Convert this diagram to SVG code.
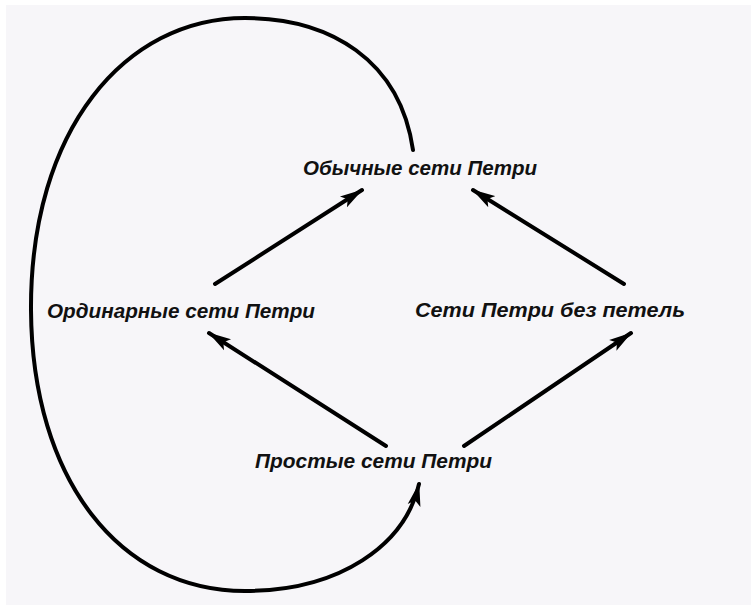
<svg xmlns="http://www.w3.org/2000/svg" width="751" height="608" viewBox="0 0 751 608">
<defs>
<style>
.lbl{font-family:"Liberation Sans","DejaVu Sans",sans-serif;font-style:italic;font-weight:bold;font-size:21px;fill:#111;}
.edge{fill:none;stroke:#000;stroke-width:4;stroke-linecap:round;}
</style>
<marker id="ah" markerWidth="24" markerHeight="16" refX="22" refY="8" orient="auto" markerUnits="userSpaceOnUse">
<path d="M0,1.5 L23,8 L0,14.5 L5,8 Z" fill="#000"/>
</marker>
</defs>
<rect x="0" y="0" width="751" height="608" fill="#ffffff"/>
<rect x="6" y="5" width="745" height="600" fill="#f7f6f9"/>
<g id="connectors">
<line class="edge" x1="215" y1="284" x2="362" y2="190" marker-end="url(#ah)"/>
<line class="edge" x1="624" y1="284" x2="473" y2="190" marker-end="url(#ah)"/>
<line class="edge" x1="386" y1="446" x2="209" y2="333" marker-end="url(#ah)"/>
<line class="edge" x1="464" y1="446" x2="631" y2="333" marker-end="url(#ah)"/>
<path class="edge" d="M413,150 C400,60 330,18 245,18 C125,18 30,130 31,310 C32,480 120,591 245,591 C340,591 405,545 419,484" marker-end="url(#ah)"/>
</g>
<g id="n-obychnye"><text class="lbl" x="303" y="175" textLength="234" lengthAdjust="spacingAndGlyphs">Обычные  сети  Петри</text></g>
<g id="n-ordinarnye"><text class="lbl" x="47" y="318" textLength="268" lengthAdjust="spacingAndGlyphs">Ординарные  сети  Петри</text></g>
<g id="n-bez-petel"><text class="lbl" x="415" y="317" textLength="270" lengthAdjust="spacingAndGlyphs">Сети  Петри без петель</text></g>
<g id="n-prostye"><text class="lbl" x="255" y="468" textLength="237" lengthAdjust="spacingAndGlyphs">Простые  сети  Петри</text></g>
</svg>
